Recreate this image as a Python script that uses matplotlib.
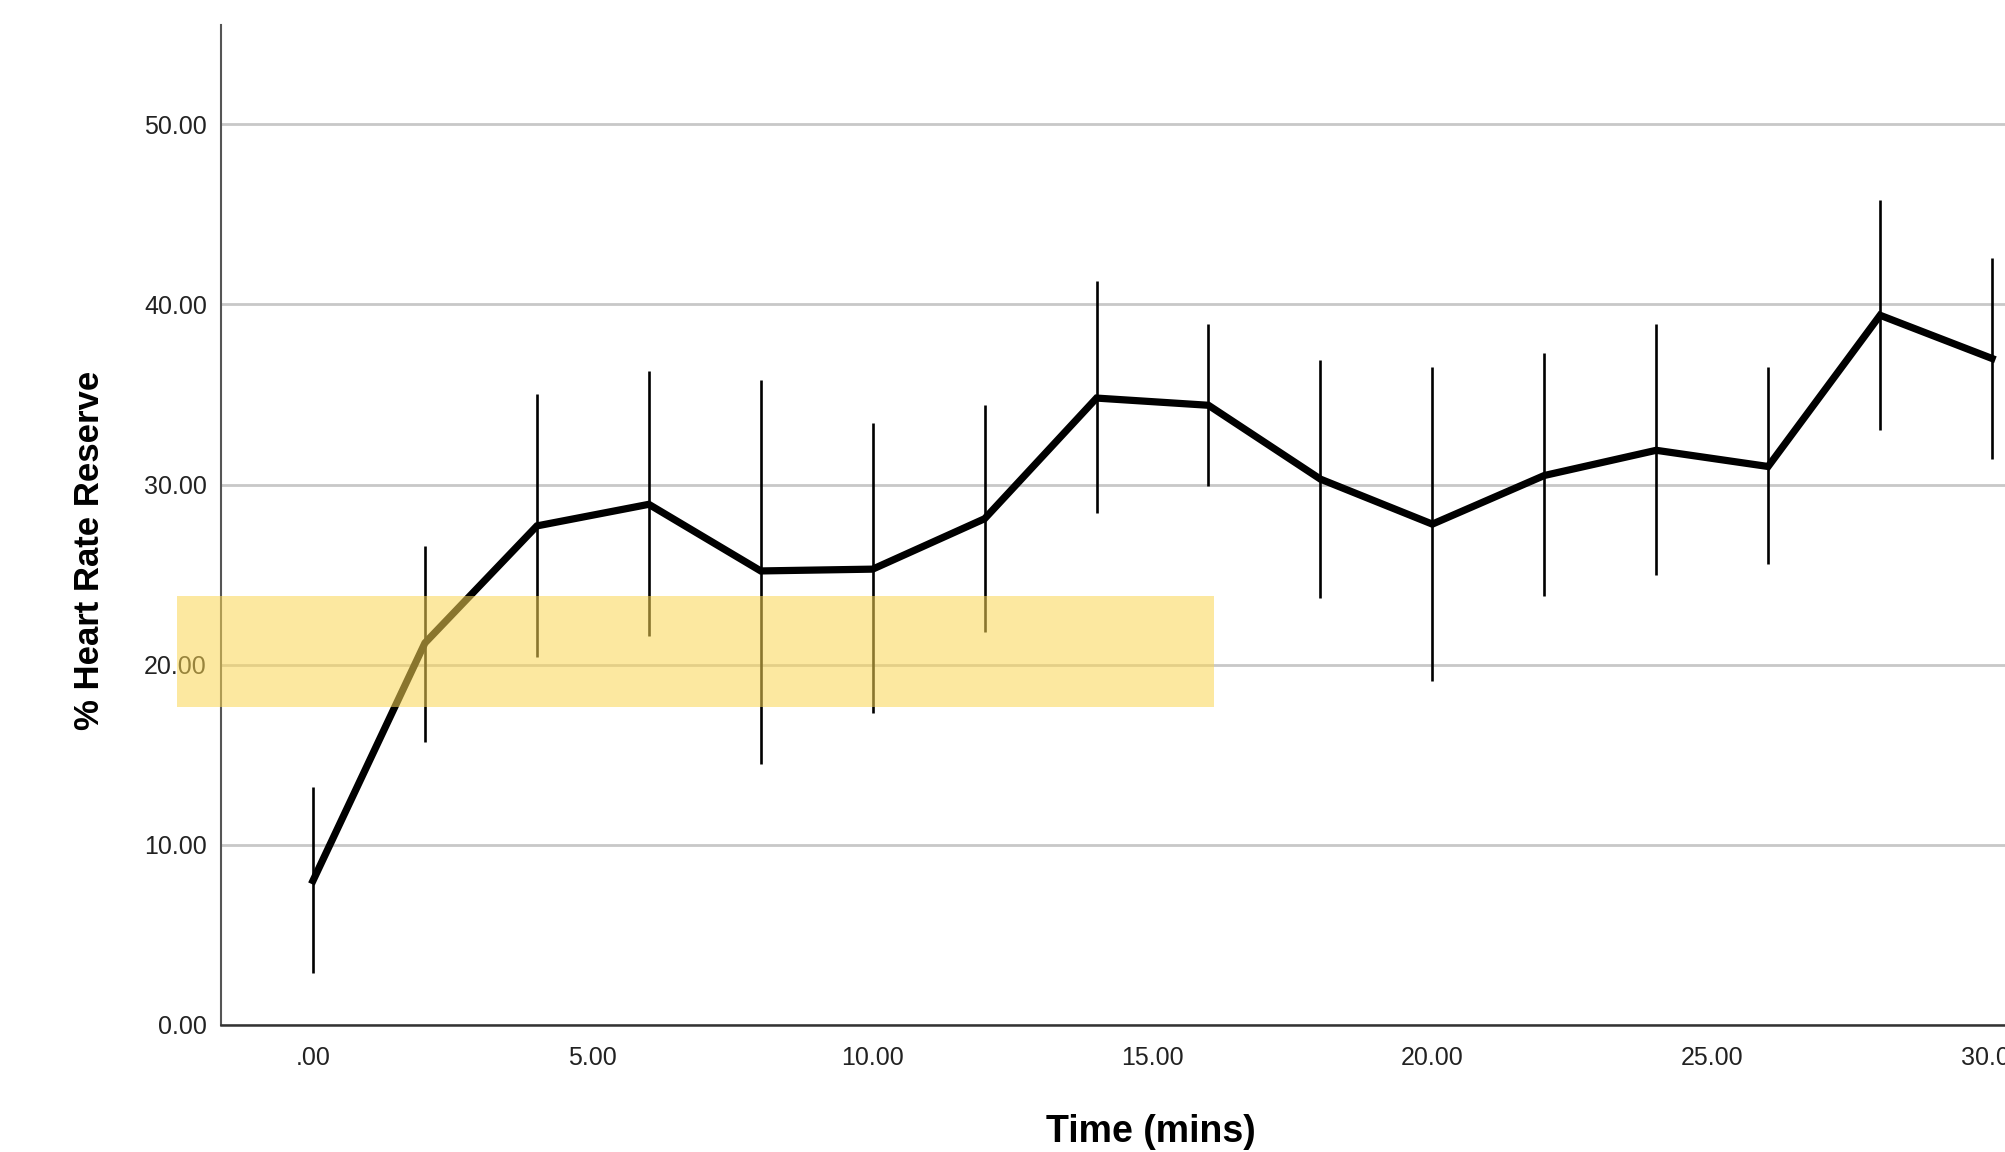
import matplotlib.pyplot as plt
from matplotlib.patches import Rectangle

time = [0, 2, 4, 6, 8, 10, 12, 14, 16, 18, 20, 22, 24, 26, 28, 30]
hrr_mean = [8.0, 21.2, 27.7, 28.9, 25.2, 25.3, 28.1, 34.8, 34.4, 30.3, 27.8, 30.5, 31.9, 31.0, 39.4, 37.0]
hrr_upper = [13.2, 26.6, 35.0, 36.3, 35.8, 33.4, 34.4, 41.3, 38.9, 36.9, 36.5, 37.3, 38.9, 36.5, 45.8, 42.6]
hrr_lower = [2.85, 15.7, 20.4, 21.6, 14.5, 17.3, 21.8, 28.4, 29.9, 23.7, 19.1, 23.8, 25.0, 25.6, 33.0, 31.4]

x_ticks = [0, 5, 10, 15, 20, 25, 30]
x_labels = ['.00', '5.00', '10.00', '15.00', '20.00', '25.00', '30.00']
y_ticks = [0, 10, 20, 30, 40, 50]
y_labels = ['0.00', '10.00', '20.00', '30.00', '40.00', '50.00']

plt.rcParams['font.family'] = ['Liberation Sans', 'DejaVu Sans']

fig = plt.figure(figsize=(20.06, 11.52), dpi=100)
ax = fig.add_axes([0.110, 0.1105, 0.890, 0.8675])

ax.vlines(time, hrr_lower, hrr_upper, color='black', linewidth=1.9, zorder=3)
ax.plot(time, hrr_mean, color='black', linewidth=5.2, solid_joinstyle='miter', zorder=4)

ax.set_xlim(-1.65, 30.25)
ax.set_ylim(0, 55.5)
ax.set_xticks(x_ticks)
ax.set_xticklabels(x_labels)
ax.set_yticks(y_ticks)
ax.set_yticklabels(y_labels)
ax.tick_params(axis='both', length=0, labelsize=18, colors='#222222')
ax.tick_params(axis='x', pad=15)
ax.tick_params(axis='y', pad=10)

ax.grid(axis='y', color='#c8c8c8', linewidth=2)
ax.set_axisbelow(True)
for s in ['top', 'right']:
    ax.spines[s].set_visible(False)
ax.spines['left'].set_color('#555555')
ax.spines['left'].set_linewidth(1.5)
ax.spines['bottom'].set_color('#333333')
ax.spines['bottom'].set_linewidth(1.8)

ax.set_xlabel('Time (mins)', fontsize=27, fontweight='bold')
ax.xaxis.set_label_coords(0.521, -0.089)
ax.set_ylabel('% Heart Rate Reserve', fontsize=25, fontweight='bold')
ax.yaxis.set_label_coords(-0.064, 0.475)

# highlight band laid over the chart
fig.patches.append(Rectangle((0.088, 0.386), 0.517, 0.097, transform=fig.transFigure,
                             facecolor='#fbd653', alpha=0.55, edgecolor='none', zorder=10))

fig.savefig('out.png', dpi=100)
